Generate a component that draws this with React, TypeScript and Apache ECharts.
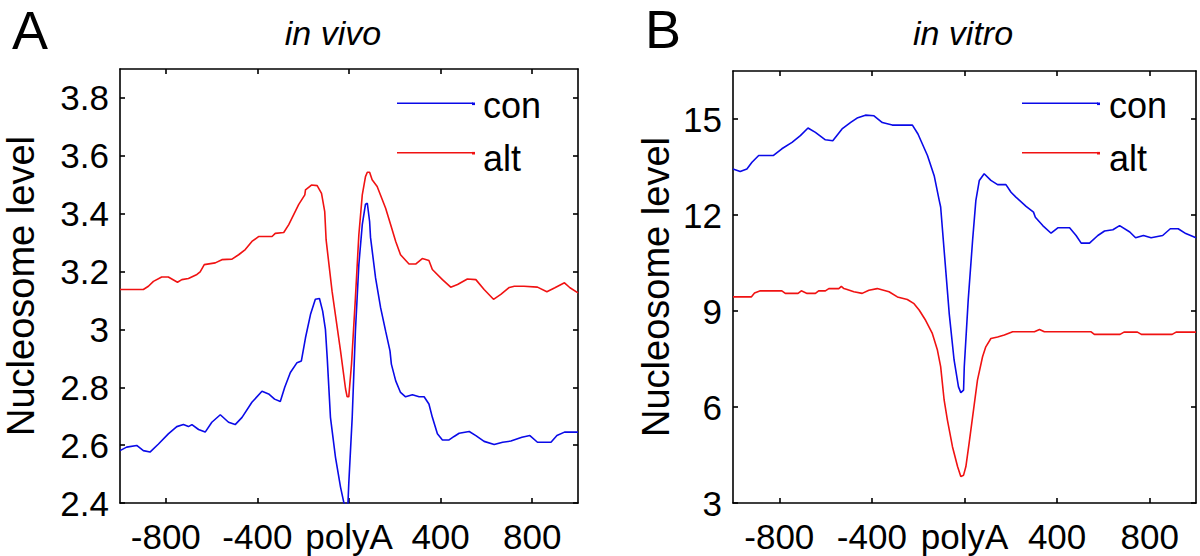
import React, { useEffect, useRef } from "react";
import * as echarts from "echarts";

// ---------- data ----------
const xTickValues = [-800, -400, 0, 400, 800];
const vivoYTicks = [2.4, 2.6, 2.8, 3, 3.2, 3.4, 3.6, 3.8];
const vitroYTicks = [3, 6, 9, 12, 15];
const seriesNames = ["con", "alt"];
const panelTitles = ["in vivo", "in vitro"];
const panelLetters = ["A", "B"];
const yAxisTitle = "Nucleosome level";

// in vivo, con (blue)
const vivoConX = [-1000, -971, -927, -898, -869, -832, -789, -752, -723, -701, -686, -657, -628, -599, -562, -526, -497, -467, -424, -380, -351, -325, -300, -281, -256, -227, -208, -190, -168, -147, -129, -115, -103, -95, -81, -59, -37, -23, -12, -5, -1, 14, 28, 43, 58, 72, 80, 90, 94, 116, 138, 160, 179, 185, 204, 225, 247, 277, 306, 328, 349, 364, 386, 408, 437, 459, 481, 525, 554, 590, 634, 671, 707, 755, 790, 823, 882, 908, 941, 1000];
const vivoConY = [2.581, 2.593, 2.599, 2.581, 2.576, 2.604, 2.639, 2.664, 2.671, 2.664, 2.671, 2.654, 2.645, 2.679, 2.705, 2.679, 2.671, 2.696, 2.748, 2.786, 2.777, 2.759, 2.751, 2.799, 2.851, 2.885, 2.891, 2.971, 3.052, 3.104, 3.107, 3.063, 3.0, 2.9, 2.696, 2.558, 2.455, 2.403, 2.385, 2.39, 2.467, 2.696, 2.994, 3.224, 3.362, 3.433, 3.436, 3.373, 3.318, 3.178, 3.075, 2.994, 2.926, 2.88, 2.822, 2.782, 2.767, 2.774, 2.767, 2.767, 2.742, 2.696, 2.639, 2.618, 2.618, 2.63, 2.641, 2.647, 2.633, 2.613, 2.602, 2.61, 2.614, 2.627, 2.633, 2.61, 2.61, 2.633, 2.645, 2.645];

// in vivo, alt (red)
const vivoAltX = [-1000, -898, -876, -854, -818, -789, -749, -730, -701, -664, -650, -632, -584, -555, -511, -482, -453, -424, -395, -336, -322, -285, -263, -220, -193, -190, -164, -139, -120, -106, -100, -74, -37, -15, -8, -1, 11, 28, 43, 58, 72, 80, 90, 101, 123, 160, 182, 204, 225, 262, 291, 320, 349, 364, 408, 444, 474, 517, 554, 590, 631, 663, 700, 722, 764, 823, 864, 899, 941, 965, 1000];
const vivoAltY = [3.138, 3.138, 3.149, 3.166, 3.181, 3.181, 3.163, 3.172, 3.176, 3.19, 3.199, 3.224, 3.23, 3.241, 3.243, 3.258, 3.276, 3.304, 3.321, 3.321, 3.332, 3.335, 3.362, 3.431, 3.465, 3.482, 3.499, 3.497, 3.47, 3.407, 3.31, 3.132, 2.926, 2.794, 2.767, 2.767, 2.88, 3.109, 3.327, 3.465, 3.528, 3.543, 3.543, 3.517, 3.494, 3.419, 3.362, 3.304, 3.258, 3.226, 3.226, 3.245, 3.238, 3.207, 3.172, 3.146, 3.155, 3.174, 3.172, 3.138, 3.104, 3.121, 3.145, 3.149, 3.149, 3.146, 3.13, 3.144, 3.161, 3.144, 3.126];

// in vitro, con (blue)
const vitroConX = [-1000, -969, -940, -918, -889, -825, -789, -745, -709, -676, -644, -601, -569, -529, -490, -464, -428, -391, -355, -312, -225, -201, -160, -131, -109, -103, -88, -66, -45, -26, -16, -4, -1, 16, 35, 49, 64, 85, 114, 143, 179, 201, 222, 266, 298, 306, 338, 374, 403, 454, 482, 504, 540, 576, 605, 641, 670, 714, 739, 773, 806, 856, 889, 923, 956, 1000];
const vitroConY = [13.44, 13.36, 13.44, 13.65, 13.86, 13.86, 14.07, 14.27, 14.48, 14.72, 14.58, 14.35, 14.32, 14.69, 14.9, 15.03, 15.12, 15.1, 14.89, 14.81, 14.81, 14.53, 13.86, 13.23, 12.45, 12.25, 10.9, 8.92, 7.47, 6.63, 6.45, 6.53, 7.26, 9.34, 11.21, 12.45, 13.08, 13.29, 13.08, 12.95, 12.95, 12.71, 12.56, 12.27, 12.09, 11.93, 11.67, 11.43, 11.6, 11.6, 11.36, 11.12, 11.12, 11.36, 11.5, 11.54, 11.67, 11.47, 11.29, 11.36, 11.29, 11.36, 11.57, 11.57, 11.42, 11.29];

// in vitro, alt (red)
const vitroAltX = [-1000, -921, -907, -882, -789, -774, -719, -705, -680, -644, -630, -601, -586, -543, -532, -521, -507, -478, -442, -413, -377, -326, -290, -247, -218, -196, -168, -139, -117, -103, -88, -74, -52, -30, -16, -4, 6, 20, 39, 56, 78, 92, 114, 143, 172, 208, 302, 324, 345, 547, 561, 672, 689, 747, 764, 897, 914, 1000];
const vitroAltY = [9.44, 9.44, 9.56, 9.63, 9.63, 9.55, 9.55, 9.63, 9.55, 9.55, 9.63, 9.63, 9.7, 9.7, 9.77, 9.7, 9.67, 9.6, 9.55, 9.65, 9.7, 9.6, 9.44, 9.36, 9.23, 9.03, 8.71, 8.3, 7.78, 7.26, 6.22, 5.6, 4.76, 4.14, 3.83, 3.87, 4.14, 4.87, 5.91, 6.84, 7.57, 7.88, 8.14, 8.19, 8.25, 8.35, 8.35, 8.42, 8.35, 8.35, 8.27, 8.27, 8.34, 8.34, 8.27, 8.27, 8.34, 8.34];

// ---------- styling ----------
const FONT = "'Liberation Sans', Arial, Helvetica, sans-serif";
const BLUE = "#0a0ae8";
const RED = "#f01212";
const BLACK = "#000000";

const zip = (xs: number[], ys: number[]) => xs.map((x, i) => [x, ys[i]]);

const grids = [
  { left: 120, top: 69, width: 458, height: 434 },
  { left: 733, top: 71, width: 463, height: 432 },
];

function xAxes(gridIndex: number) {
  const base = {
    gridIndex,
    type: "value" as const,
    min: -1000,
    max: 1000,
    splitLine: { show: false },
    axisLine: { show: true, onZero: false, lineStyle: { color: BLACK, width: 1.6 } },
    axisTick: {
      show: true,
      inside: true,
      length: 5,
      customValues: xTickValues,
      lineStyle: { color: BLACK, width: 1.6 },
    },
  };
  return [
    {
      ...base,
      position: "bottom",
      axisLabel: {
        show: true,
        customValues: xTickValues,
        formatter: (v: number) => (v === 0 ? "polyA" : String(v)),
        color: BLACK,
        fontSize: 35,
        fontFamily: FONT,
        margin: 16,
        hideOverlap: false,
      },
    },
    { ...base, position: "top", axisLabel: { show: false } },
  ];
}

function yAxes(gridIndex: number, min: number, max: number, ticks: number[]) {
  const base = {
    gridIndex,
    type: "value" as const,
    min,
    max,
    splitLine: { show: false },
    axisLine: { show: true, onZero: false, lineStyle: { color: BLACK, width: 1.6 } },
    axisTick: {
      show: true,
      inside: true,
      length: 5,
      customValues: ticks,
      lineStyle: { color: BLACK, width: 1.6 },
    },
  };
  return [
    {
      ...base,
      position: "left",
      axisLabel: {
        show: true,
        customValues: ticks,
        formatter: (v: number) => String(Number(v.toFixed(1))),
        color: BLACK,
        fontSize: 35,
        fontFamily: FONT,
        margin: 11,
      },
    },
    { ...base, position: "right", axisLabel: { show: false } },
  ];
}

function lineSeries(name: string, color: string, xi: number, yi: number, data: number[][]) {
  return {
    name,
    type: "line",
    xAxisIndex: xi,
    yAxisIndex: yi,
    data,
    showSymbol: false,
    symbol: "none",
    clip: true,
    lineStyle: { color, width: 1.6 },
    itemStyle: { color },
    emphasis: { disabled: true },
  };
}

function legendGraphics(lineX0: number, lineX1: number, textX: number) {
  const rows = [
    { name: seriesNames[0], color: BLUE, y: 103.3, ty: 105.7 },
    { name: seriesNames[1], color: RED, y: 152.7, ty: 158 },
  ];
  const out: any[] = [];
  rows.forEach((r) => {
    out.push({
      type: "line",
      shape: { x1: lineX0, y1: r.y, x2: lineX1, y2: r.y },
      style: { stroke: r.color, lineWidth: 1.6 },
      z: 100,
    });
    out.push({
      type: "line",
      shape: { x1: lineX1 - 1, y1: r.y + 0.5, x2: lineX1 + 2, y2: r.y + 0.5 },
      style: { stroke: r.color, lineWidth: 2.6 },
      z: 100,
    });
    out.push({
      type: "text",
      x: textX,
      y: r.ty,
      style: {
        text: r.name,
        font: `36px ${FONT}`,
        fill: BLACK,
        textAlign: "left",
        textVerticalAlign: "middle",
      },
      z: 100,
    });
  });
  return out;
}

export default function App() {
  const ref = useRef<HTMLDivElement>(null);

  useEffect(() => {
    document.body.style.margin = "0";
    if (!ref.current) return;
    const chart = echarts.init(ref.current, undefined, { renderer: "svg" });

    const option: any = {
      animation: false,
      backgroundColor: "#ffffff",
      grid: grids,
      xAxis: [...xAxes(0), ...xAxes(1)],
      yAxis: [
        ...yAxes(0, 2.4, 3.9, vivoYTicks),
        ...yAxes(1, 3, 16.5, vitroYTicks),
      ],
      series: [
        lineSeries(seriesNames[0], BLUE, 0, 0, zip(vivoConX, vivoConY)),
        lineSeries(seriesNames[1], RED, 0, 0, zip(vivoAltX, vivoAltY)),
        lineSeries(seriesNames[0], BLUE, 2, 2, zip(vitroConX, vitroConY)),
        lineSeries(seriesNames[1], RED, 2, 2, zip(vitroAltX, vitroAltY)),
      ],
      graphic: [
        {
          type: "text",
          x: 12,
          y: 30,
          style: { text: panelLetters[0], font: `54px ${FONT}`, fill: BLACK, textAlign: "left", textVerticalAlign: "middle" },
        },
        {
          type: "text",
          x: 645,
          y: 29,
          style: { text: panelLetters[1], font: `54px ${FONT}`, fill: BLACK, textAlign: "left", textVerticalAlign: "middle" },
        },
        {
          type: "text",
          x: 333,
          y: 33,
          style: { text: panelTitles[0], font: `italic 34px ${FONT}`, fill: BLACK, textAlign: "center", textVerticalAlign: "middle" },
        },
        {
          type: "text",
          x: 963,
          y: 33,
          style: { text: panelTitles[1], font: `italic 34px ${FONT}`, fill: BLACK, textAlign: "center", textVerticalAlign: "middle" },
        },
        {
          type: "text",
          x: 21,
          y: 286,
          rotation: Math.PI / 2,
          style: { text: yAxisTitle, font: `38px ${FONT}`, fill: BLACK, textAlign: "center", textVerticalAlign: "middle" },
        },
        {
          type: "text",
          x: 656,
          y: 287,
          rotation: Math.PI / 2,
          style: { text: yAxisTitle, font: `38px ${FONT}`, fill: BLACK, textAlign: "center", textVerticalAlign: "middle" },
        },
        ...legendGraphics(397, 473, 483),
        ...legendGraphics(1022, 1098, 1109),
      ],
    };

    chart.setOption(option);
    return () => {
      chart.dispose();
    };
  }, []);

  return (
    <div
      ref={ref}
      style={{ position: "absolute", left: 0, top: 0, width: 1200, height: 556, background: "#fff" }}
    />
  );
}
